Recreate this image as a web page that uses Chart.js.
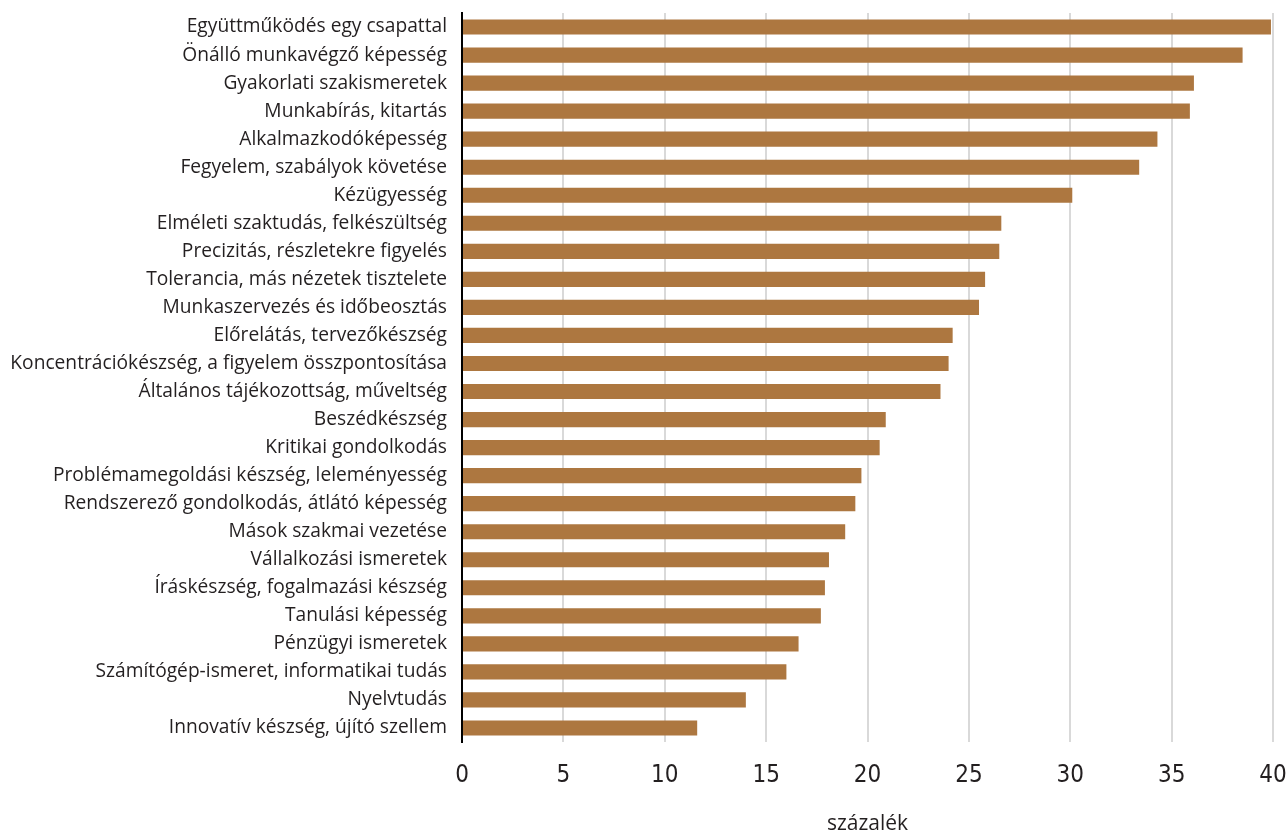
<!DOCTYPE html>
<html>
<head>
<meta charset="utf-8">
<script src="https://cdn.jsdelivr.net/npm/chart.js@4"></script>
<style>
    html, body { margin: 0; padding: 0; background: #ffffff; }
    #wrap { width: 1286px; height: 832px; }
</style>
</head>
<body>
<div id="wrap"><canvas id="skills-chart" width="1286" height="832"></canvas></div>
<script>
// Készségek (kategóriák)
const categories = [
    'Együttműködés egy csapattal',
    'Önálló munkavégző képesség',
    'Gyakorlati szakismeretek',
    'Munkabírás, kitartás',
    'Alkalmazkodóképesség',
    'Fegyelem, szabályok követése',
    'Kézügyesség',
    'Elméleti szaktudás, felkészültség',
    'Precizitás, részletekre figyelés',
    'Tolerancia, más nézetek tisztelete',
    'Munkaszervezés és időbeosztás',
    'Előrelátás, tervezőkészség',
    'Koncentrációkészség, a figyelem összpontosítása',
    'Általános tájékozottság, műveltség',
    'Beszédkészség',
    'Kritikai gondolkodás',
    'Problémamegoldási készség, leleményesség',
    'Rendszerező gondolkodás, átlátó képesség',
    'Mások szakmai vezetése',
    'Vállalkozási ismeretek',
    'Íráskészség, fogalmazási készség',
    'Tanulási képesség',
    'Pénzügyi ismeretek',
    'Számítógép-ismeret, informatikai tudás',
    'Nyelvtudás',
    'Innovatív készség, újító szellem'
];

// Értékek százalékban
const values = [
    39.9, 38.5, 36.1, 35.9, 34.3, 33.4, 30.1, 26.6, 26.5, 25.8, 25.5, 24.2, 24.0,
    23.6, 20.9, 20.6, 19.7, 19.4, 18.9, 18.1, 17.9, 17.7, 16.6, 16.0, 14.0, 11.6
];

// Tengely beállítások
const axisMin = 0;
const axisMax = 40;
const axisStep = 5;
const axisTitle = 'százalék';

const textColor = '#231f20';
const barColor = '#ad7740';

Chart.defaults.font.family = "'Open Sans', 'Noto Sans', sans-serif";
Chart.defaults.color = textColor;

const ctx = document.getElementById('skills-chart').getContext('2d');

new Chart(ctx, {
    type: 'bar',
    data: {
        labels: categories,
        datasets: [{
            data: values,
            backgroundColor: barColor,
            borderWidth: 0,
            barPercentage: 0.54,
            categoryPercentage: 1.0
        }]
    },
    options: {
        indexAxis: 'y',
        responsive: false,
        animation: false,
        layout: {
            padding: 0
        },
        plugins: {
            legend: { display: false },
            tooltip: { enabled: false }
        },
        scales: {
            x: {
                min: axisMin,
                max: axisMax,
                afterFit: function(scale) {
                    // fix the axis box so the plot area matches the original
                    scale.height = 90;
                    scale.paddingLeft = 0;
                    scale.paddingRight = 13;
                },
                ticks: {
                    stepSize: axisStep,
                    padding: 19,
                    font: { family: "'Liberation Sans Narrow', 'DejaVu Sans Condensed', sans-serif", size: 24 },
                    color: textColor
                },
                grid: {
                    color: '#d9d9d9',
                    lineWidth: 2,
                    drawTicks: false
                },
                border: { display: false },
                title: {
                    display: true,
                    text: axisTitle,
                    font: { size: 21 },
                    color: textColor,
                    padding: { top: 0, bottom: -5 }
                }
            },
            y: {
                afterFit: function(scale) {
                    scale.width = 462;
                    scale.paddingTop = 13;
                    scale.paddingBottom = 0;
                },
                ticks: {
                    padding: 15,
                    autoSkip: false,
                    font: { size: 19.2 },
                    color: textColor
                },
                grid: { display: false, drawTicks: false },
                border: { display: true, color: '#000000', width: 2 }
            }
        }
    }
});
</script>
</body>
</html>
